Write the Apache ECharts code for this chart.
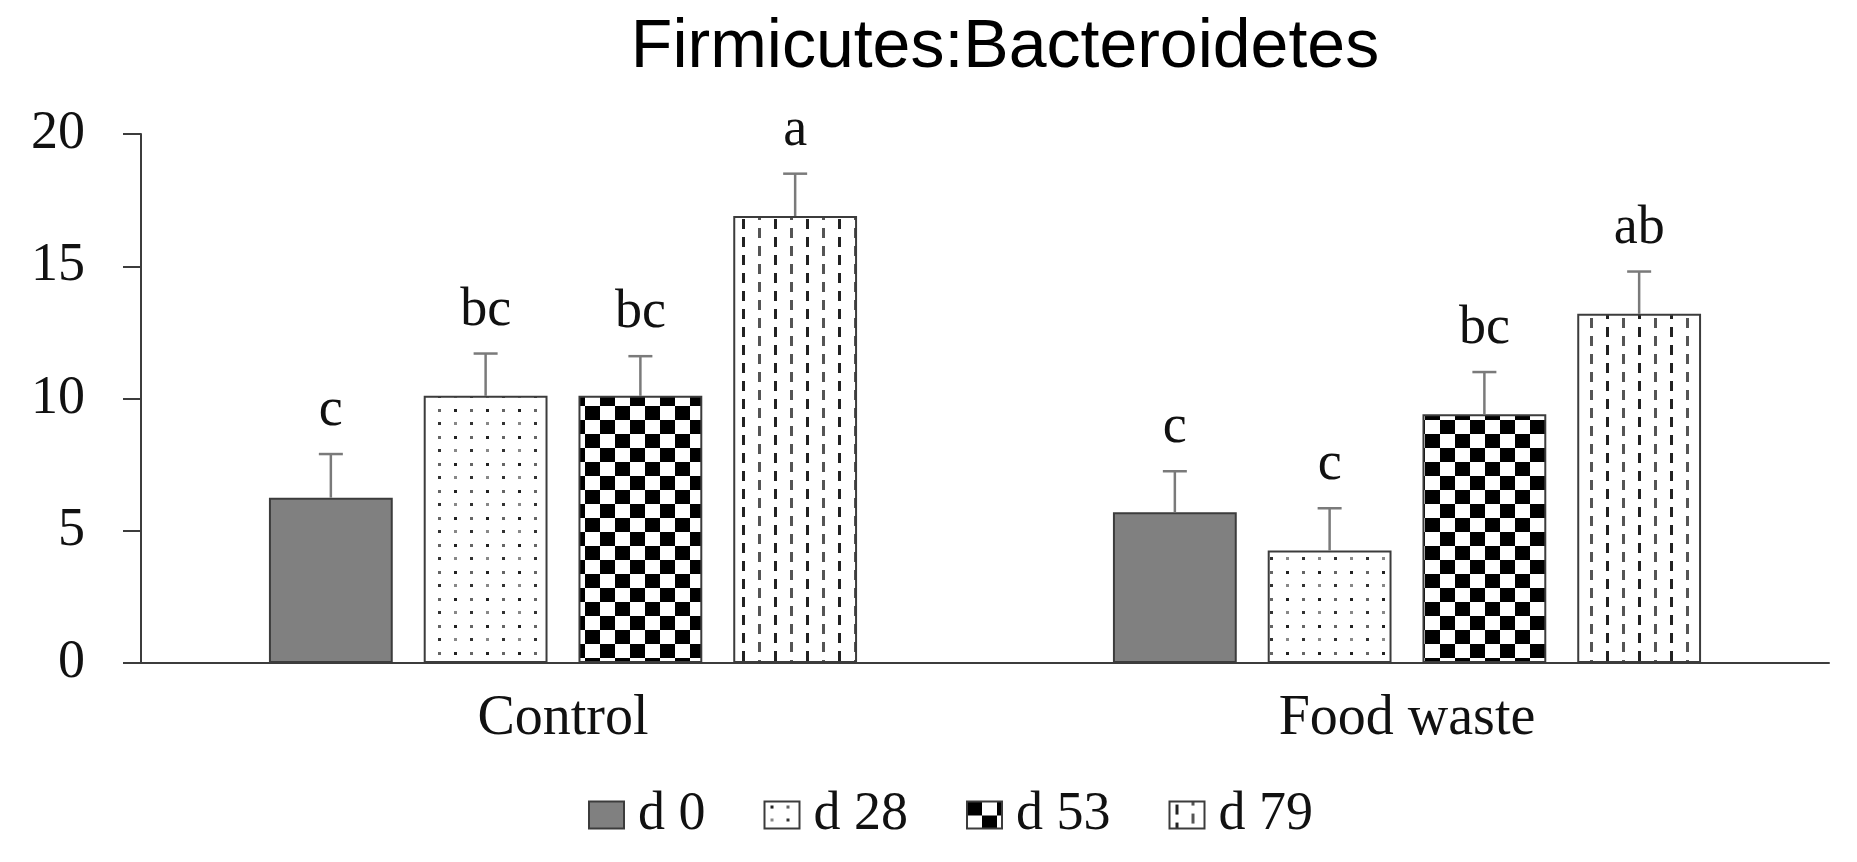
<!DOCTYPE html>
<html>
<head>
<meta charset="utf-8">
<title>Firmicutes:Bacteroidetes</title>
<script src="https://cdn.jsdelivr.net/npm/echarts@6/dist/echarts.min.js"></script>
<style>
  html, body { margin: 0; padding: 0; background: #fff; }
  #container { width: 1857px; height: 862px; }
</style>
</head>
<body>
<div id="container"></div>
<script type="text/javascript">
// data
var groups = ['Control', 'Food waste'];
var days = ['d 0', 'd 28', 'd 53', 'd 79'];
var d0  = [6.25, 5.7];
var d28 = [10.1, 4.25];
var d53 = [10.1, 9.4];
var d79 = [16.9, 13.2];
// standard error (upper bar only)
var err0  = [1.65, 1.55];
var err28 = [1.6, 1.6];
var err53 = [1.5, 1.6];
var err79 = [1.6, 1.6];
// significance letters
var let0  = ['c', 'c'];
var let28 = ['bc', 'c'];
var let53 = ['bc', 'bc'];
var let79 = ['a', 'ab'];
var yTicks = [0, 5, 10, 15, 20];

var means = [d0, d28, d53, d79];
var errs = [err0, err28, err53, err79];
var letters = [let0, let28, let53, let79];

var BAR_W = 0.1467;      // share of category width
var BAR_GAP = 0.25;      // share of bar width
var SERIF = '"Liberation Serif", "Times New Roman", serif';

// fill patterns
function tile(w, h, draw) {
    var c = document.createElement('canvas');
    c.width = w; c.height = h;
    var ctx = c.getContext('2d');
    ctx.fillStyle = '#ffffff';
    ctx.fillRect(0, 0, w, h);
    draw(ctx);
    return { image: c, repeat: 'repeat' };
}
var fillDots = tile(32, 27, function (ctx) {
    ctx.fillStyle = '#222';
    ctx.fillRect(6, 4, 3, 3);
    ctx.fillStyle = '#666';
    ctx.fillRect(22, 4, 3, 3);
    ctx.fillStyle = '#888';
    ctx.fillRect(6, 17, 3, 3);
    ctx.fillStyle = '#333';
    ctx.fillRect(22, 17, 3, 3);
});
var fillCheck = tile(30, 28, function (ctx) {
    ctx.fillStyle = '#000';
    ctx.fillRect(0, 0, 15, 14);
    ctx.fillRect(15, 14, 15, 14);
});
var fillDash = tile(32, 18, function (ctx) {
    ctx.fillStyle = '#222';
    ctx.fillRect(6, 3, 3, 10);
    ctx.fillStyle = '#555';
    ctx.fillRect(22, 12, 3, 10);
    ctx.fillRect(22, -6, 3, 10);
});
var fills = ['#808080', fillDots, fillCheck, fillDash];

var dom = document.getElementById('container');
var myChart = echarts.init(dom);

var series = [];
for (var i = 0; i < days.length; i++) {
    series.push({
        name: days[i],
        type: 'bar',
        barWidth: (BAR_W * 100) + '%',
        barGap: (BAR_GAP * 100) + '%',
        data: means[i],
        itemStyle: { color: fills[i], borderColor: '#3c3c3c', borderWidth: 2 },
        emphasis: { disabled: true },
        animation: false
    });
}

// error bars + letters
var errData = [];
for (var s = 0; s < days.length; s++) {
    for (var g = 0; g < groups.length; g++) {
        errData.push([g, s, means[s][g], errs[s][g]]);
    }
}
series.push({
    type: 'custom',
    z: 5,
    animation: false,
    silent: true,
    encode: { x: 0, y: 2 },
    data: errData,
    renderItem: function (params, api) {
        var g = api.value(0), s = api.value(1), m = api.value(2), e = api.value(3);
        var base = api.coord([g, m]);
        var top = api.coord([g, m + e]);
        var cw = api.size([1, 0])[0];
        var x = base[0] + (s - 1.5) * cw * BAR_W * (1 + BAR_GAP);
        var lineStyle = { stroke: '#7a7a7a', lineWidth: 2.5 };
        return {
            type: 'group',
            children: [
                { type: 'line', shape: { x1: x, y1: base[1], x2: x, y2: top[1] }, style: lineStyle },
                { type: 'line', shape: { x1: x - 12, y1: top[1], x2: x + 12, y2: top[1] }, style: lineStyle },
                {
                    type: 'text',
                    x: x, y: top[1] - 16,
                    style: {
                        text: letters[s][g],
                        fill: '#111',
                        font: '54px ' + SERIF,
                        align: 'center',
                        verticalAlign: 'bottom'
                    }
                }
            ]
        };
    }
});

var option = {
    backgroundColor: '#ffffff',
    animation: false,
    title: {
        text: 'Firmicutes:Bacteroidetes',
        left: 1000,
        textAlign: 'center',
        top: 9,
        textStyle: { fontFamily: '"Liberation Sans", Arial, sans-serif', fontWeight: 'normal', fontSize: 68, color: '#000' }
    },
    legend: {
        data: days,
        left: 583,
        top: 783,
        icon: 'rect',
        itemWidth: 35,
        itemHeight: 27,
        itemGap: 58,
        textStyle: { fontFamily: SERIF, fontSize: 54, color: '#111', padding: [0, 0, 0, 9] },
        selectedMode: false
    },
    grid: { left: 141, right: 28, top: 134, bottom: 199, containLabel: false, outerBoundsMode: 'none' },
    xAxis: {
        type: 'category',
        data: groups,
        axisLine: { lineStyle: { color: '#3c3c3c', width: 2 } },
        axisTick: { length: 15, lineStyle: { color: '#3c3c3c', width: 2 } },
        axisLabel: { margin: 28, fontFamily: SERIF, fontSize: 56, color: '#111' }
    },
    yAxis: {
        type: 'value',
        min: yTicks[0],
        max: yTicks[yTicks.length - 1],
        interval: yTicks[1] - yTicks[0],
        axisLine: { show: true, lineStyle: { color: '#3c3c3c', width: 2 } },
        axisTick: { show: true, length: 18, lineStyle: { color: '#3c3c3c', width: 2 } },
        splitLine: { show: false },
        axisLabel: { margin: 56, fontFamily: SERIF, fontSize: 54, color: '#111' }
    },
    series: series
};
myChart.setOption(option);
</script>
</body>
</html>
